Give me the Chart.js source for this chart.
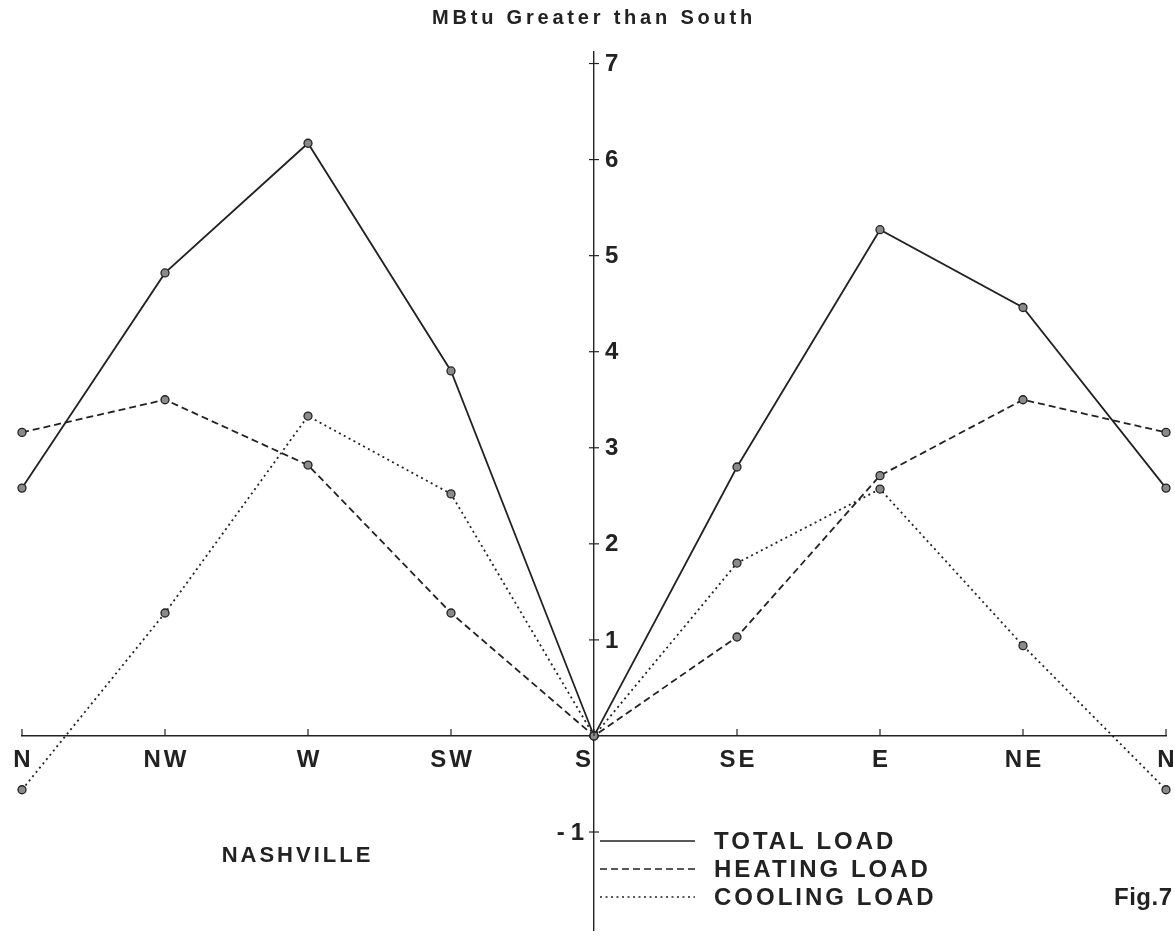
<!DOCTYPE html>
<html>
<head>
<meta charset="utf-8">
<script src="https://cdn.jsdelivr.net/npm/chart.js@4.4.0/dist/chart.umd.min.js"></script>
<style>
  html, body { margin: 0; padding: 0; background: #fff; }
</style>
</head>
<body>
<canvas id="loadChart" width="1175" height="940"></canvas>
<script>
// orientation of the building, read left to right
const directions = ['N', 'NW', 'W', 'SW', 'S', 'SE', 'E', 'NE', 'N'];

// MBtu greater than the south orientation
const totalLoad = [2.58, 4.82, 6.17, 3.80, 0, 2.80, 5.27, 4.46, 2.58];
const heatingLoad = [3.16, 3.50, 2.82, 1.28, 0, 1.03, 2.71, 3.50, 3.16];
const coolingLoad = [-0.56, 1.28, 3.33, 2.52, 0, 1.80, 2.57, 0.94, -0.56];

const yTickValues = [-1, 1, 2, 3, 4, 5, 6, 7];
const seriesNames = ['TOTAL LOAD', 'HEATING LOAD', 'COOLING LOAD'];
const chartTitle = 'MBtu Greater than South';
const cityName = 'NASHVILLE';
const figureLabel = 'Fig.7';

const ink = '#222';
const fontFamily = '"Liberation Sans", Arial, sans-serif';

const dashPatterns = [[], [7, 4], [2, 3.5]];

// draws text with letter spacing, aligned by hand so the trailing gap is ignored
const drawSpacedText = (ctx, text, x, y, size, align, spacing) => {
  ctx.save();
  ctx.font = `bold ${size}px ${fontFamily}`;
  ctx.fillStyle = ink;
  ctx.textBaseline = 'middle';
  ctx.textAlign = 'left';
  ctx.letterSpacing = `${spacing}px`;
  const width = ctx.measureText(text).width - spacing;
  let left = x;
  if (align === 'center') left = x - width / 2;
  if (align === 'right') left = x - width;
  ctx.fillText(text, left, y);
  ctx.restore();
};

const decorations = {
  id: 'decorations',
  afterDraw(chart) {
    const { ctx, scales: { x, y } } = chart;
    const axisX = x.getPixelForValue(4);
    const axisY = y.getPixelForValue(0);

    ctx.save();
    ctx.strokeStyle = ink;
    ctx.lineWidth = 1.2;

    // y ticks crossing the centre axis
    yTickValues.forEach(value => {
      const py = y.getPixelForValue(value);
      ctx.beginPath();
      ctx.moveTo(axisX - 5, py);
      ctx.lineTo(axisX + 5, py);
      ctx.stroke();
      if (value > 0) {
        drawSpacedText(ctx, String(value), axisX + 11, py + 1, 24, 'left', 0);
      } else {
        drawSpacedText(ctx, '-1', axisX - 10, py + 1, 24, 'right', 6);
      }
    });

    // x ticks point upwards, labels sit below the axis
    directions.forEach((label, index) => {
      const px = x.getPixelForValue(index);
      ctx.beginPath();
      ctx.moveTo(px, axisY);
      ctx.lineTo(px, axisY - 7);
      ctx.stroke();
      // the S label sits just left of the vertical axis
      const labelX = index === 4 ? px - 11 : px;
      drawSpacedText(ctx, label, labelX, axisY + 24, 24, 'center', 3);
    });
    ctx.restore();

    drawSpacedText(ctx, chartTitle, 432, 18, 20, 'left', 3.8);

    // hand drawn legend under the axis
    const legendTop = y.getPixelForValue(-1) + 9;
    seriesNames.forEach((name, index) => {
      const rowY = legendTop + index * 28;
      ctx.save();
      ctx.strokeStyle = ink;
      ctx.lineWidth = 1.6;
      ctx.setLineDash(dashPatterns[index]);
      ctx.beginPath();
      ctx.moveTo(axisX + 6, rowY);
      ctx.lineTo(axisX + 101, rowY);
      ctx.stroke();
      ctx.restore();
      drawSpacedText(ctx, name, axisX + 120, rowY + 1, 24, 'left', 3);
    });

    drawSpacedText(ctx, cityName, x.getPixelForValue(2) - 12, legendTop + 15, 22, 'center', 3);
    drawSpacedText(ctx, figureLabel, 1172, legendTop + 57, 24, 'right', 0.5);
  }
};

const makeDataset = (label, data, dash) => ({
  label: label,
  data: data,
  borderColor: ink,
  borderWidth: 1.8,
  borderDash: dash,
  tension: 0,
  fill: false,
  pointRadius: 4,
  pointBackgroundColor: '#8a8a8a',
  pointBorderColor: ink,
  pointBorderWidth: 1.3
});

const config = {
  type: 'line',
  data: {
    labels: directions,
    datasets: [
      makeDataset(seriesNames[0], totalLoad, dashPatterns[0]),
      makeDataset(seriesNames[1], heatingLoad, dashPatterns[1]),
      makeDataset(seriesNames[2], coolingLoad, dashPatterns[2])
    ]
  },
  options: {
    responsive: false,
    animation: false,
    devicePixelRatio: 1,
    layout: {
      padding: { top: 52, bottom: 10, left: 22, right: 9 }
    },
    plugins: {
      legend: { display: false },
      title: { display: false },
      tooltip: { enabled: false }
    },
    scales: {
      x: {
        type: 'category',
        position: { y: 0 },
        offset: false,
        ticks: { display: false },
        grid: { drawOnChartArea: false, drawTicks: false },
        border: { display: true, color: ink, width: 1.4 }
      },
      y: {
        type: 'linear',
        position: { x: 4 },
        min: -2.02,
        max: 7.12,
        ticks: { display: false },
        grid: { drawOnChartArea: false, drawTicks: false },
        border: { display: true, color: ink, width: 1.4 }
      }
    }
  },
  plugins: [decorations]
};

const loadChart = new Chart(document.getElementById('loadChart'), config);
</script>
</body>
</html>
